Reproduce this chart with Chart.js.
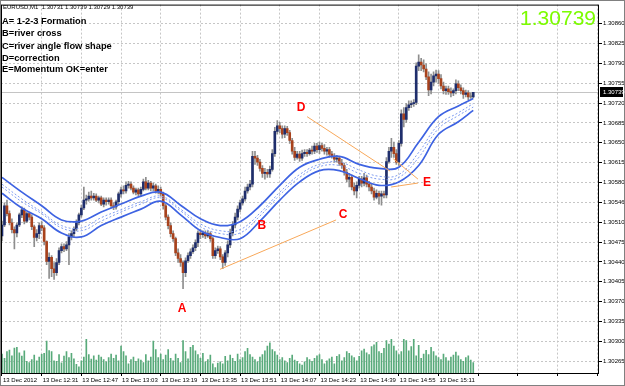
<!DOCTYPE html>
<html><head><meta charset="utf-8">
<script src="https://cdn.jsdelivr.net/npm/chart.js@4/dist/chart.umd.min.js"></script>
<style>html,body{margin:0;padding:0;background:#fff;overflow:hidden}canvas{display:block}</style>
</head><body>
<canvas id="c" width="625" height="386"></canvas>
<script>
const symbolTitle = 'EURUSD,M1  1.30731 1.30739 1.30729 1.30739';
const notes = ['A= 1-2-3 Formation','B=river cross','C=river angle flow shape','D=correction','E=Momentum OK=enter'];
const xTickBars = [0,16,32,48,64,80,96,112,128,144,160,176,192,208,224,240];
const xTickLabels = ['13 Dec 2012','13 Dec 12:31','13 Dec 12:47','13 Dec 13:03','13 Dec 13:19','13 Dec 13:35','13 Dec 13:51','13 Dec 14:07','13 Dec 14:23','13 Dec 14:39','13 Dec 14:55','13 Dec 15:11'];
const yTicks = [1.30265,1.30300,1.30335,1.30370,1.30405,1.30440,1.30475,1.30510,1.30545,1.30580,1.30615,1.30650,1.30685,1.30720,1.30755,1.30790,1.30825,1.30860];
const yTickLabels = ['1.30265','1.30300','1.30335','1.30370','1.30405','1.30440','1.30475','1.30510','1.30546','1.30580','1.30615','1.30650','1.30685','1.30720','1.30755','1.30790','1.30825','1.30860'];

const open = [1.30486,1.30505,1.30539,1.30525,1.30509,1.30497,1.30491,1.30505,1.30523,1.30532,
1.30512,1.30525,1.30519,1.30502,1.30483,1.30490,1.30504,1.30500,1.30476,1.30441,
1.30448,1.30428,1.30421,1.30439,1.30460,1.30467,1.30463,1.30470,1.30484,1.30490,
1.30498,1.30509,1.30523,1.30535,1.30549,1.30551,1.30556,1.30553,1.30556,1.30549,
1.30553,1.30542,1.30549,1.30546,1.30549,1.30539,1.30537,1.30546,1.30560,1.30567,
1.30565,1.30575,1.30577,1.30570,1.30563,1.30567,1.30560,1.30568,1.30581,1.30570,
1.30579,1.30570,1.30574,1.30565,1.30568,1.30560,1.30539,1.30519,1.30504,1.30490,
1.30481,1.30456,1.30446,1.30439,1.30421,1.30442,1.30451,1.30458,1.30465,1.30474,
1.30491,1.30488,1.30491,1.30486,1.30490,1.30481,1.30451,1.30460,1.30463,1.30449,
1.30439,1.30456,1.30470,1.30491,1.30505,1.30519,1.30533,1.30544,1.30551,1.30565,
1.30572,1.30577,1.30626,1.30623,1.30616,1.30605,1.30596,1.30598,1.30595,1.30603,
1.30631,1.30670,1.30680,1.30675,1.30665,1.30675,1.30668,1.30654,1.30635,1.30624,
1.30630,1.30623,1.30631,1.30633,1.30631,1.30637,1.30635,1.30644,1.30638,1.30645,
1.30640,1.30635,1.30638,1.30630,1.30626,1.30621,1.30623,1.30614,1.30610,1.30598,
1.30586,1.30589,1.30572,1.30565,1.30575,1.30586,1.30579,1.30588,1.30577,1.30572,
1.30565,1.30554,1.30561,1.30556,1.30560,1.30558,1.30617,1.30635,1.30642,1.30631,
1.30616,1.30649,1.30701,1.30691,1.30712,1.30717,1.30719,1.30721,1.30785,1.30792,
1.30787,1.30780,1.30766,1.30743,1.30757,1.30768,1.30771,1.30763,1.30750,1.30742,
1.30745,1.30740,1.30738,1.30742,1.30754,1.30747,1.30742,1.30735,1.30738,1.30731,
1.30731];
const high = [1.30512,1.30544,1.30549,1.30530,1.30516,1.30502,1.30509,1.30526,1.30537,1.30535,
1.30528,1.30528,1.30523,1.30505,1.30497,1.30509,1.30511,1.30504,1.30477,1.30456,
1.30451,1.30439,1.30446,1.30465,1.30472,1.30472,1.30476,1.30490,1.30495,1.30502,
1.30514,1.30526,1.30540,1.30572,1.30558,1.30563,1.30565,1.30561,1.30560,1.30556,
1.30556,1.30553,1.30553,1.30553,1.30553,1.30544,1.30549,1.30563,1.30572,1.30574,
1.30581,1.30582,1.30581,1.30574,1.30570,1.30570,1.30572,1.30586,1.30589,1.30584,
1.30582,1.30579,1.30577,1.30574,1.30572,1.30563,1.30542,1.30523,1.30509,1.30495,
1.30484,1.30463,1.30453,1.30442,1.30447,1.30456,1.30463,1.30470,1.30479,1.30495,
1.30497,1.30495,1.30495,1.30495,1.30493,1.30484,1.30465,1.30468,1.30467,1.30453,
1.30460,1.30477,1.30498,1.30511,1.30526,1.30539,1.30549,1.30556,1.30572,1.30577,
1.30584,1.30635,1.30635,1.30628,1.30621,1.30610,1.30605,1.30603,1.30609,1.30638,
1.30677,1.30689,1.30686,1.30680,1.30680,1.30679,1.30672,1.30658,1.30642,1.30635,
1.30635,1.30637,1.30638,1.30638,1.30640,1.30644,1.30649,1.30649,1.30651,1.30649,
1.30647,1.30642,1.30642,1.30635,1.30631,1.30628,1.30626,1.30621,1.30614,1.30603,
1.30596,1.30593,1.30579,1.30581,1.30591,1.30591,1.30596,1.30593,1.30582,1.30577,
1.30570,1.30567,1.30565,1.30565,1.30565,1.30624,1.30642,1.30658,1.30651,1.30638,
1.30654,1.30708,1.30712,1.30719,1.30724,1.30724,1.30726,1.30791,1.30805,1.30799,
1.30796,1.30789,1.30775,1.30771,1.30775,1.30778,1.30777,1.30770,1.30757,1.30750,
1.30750,1.30747,1.30745,1.30761,1.30759,1.30752,1.30747,1.30743,1.30742,1.30738,
1.30739];
const low = [1.30477,1.30502,1.30521,1.30505,1.30491,1.30463,1.30484,1.30502,1.30518,1.30507,
1.30509,1.30514,1.30497,1.30467,1.30477,1.30481,1.30495,1.30470,1.30435,1.30411,
1.30414,1.30409,1.30416,1.30435,1.30456,1.30458,1.30460,1.30435,1.30479,1.30484,
1.30495,1.30505,1.30519,1.30532,1.30542,1.30547,1.30549,1.30549,1.30546,1.30544,
1.30539,1.30537,1.30540,1.30542,1.30535,1.30532,1.30533,1.30542,1.30554,1.30560,
1.30561,1.30570,1.30567,1.30560,1.30558,1.30556,1.30556,1.30565,1.30567,1.30567,
1.30565,1.30565,1.30561,1.30560,1.30556,1.30533,1.30514,1.30498,1.30484,1.30476,
1.30451,1.30439,1.30432,1.30393,1.30414,1.30439,1.30446,1.30455,1.30460,1.30467,
1.30481,1.30483,1.30481,1.30483,1.30476,1.30446,1.30446,1.30455,1.30444,1.30428,
1.30434,1.30449,1.30465,1.30486,1.30500,1.30514,1.30528,1.30540,1.30547,1.30561,
1.30567,1.30572,1.30612,1.30610,1.30600,1.30589,1.30586,1.30589,1.30589,1.30600,
1.30626,1.30665,1.30668,1.30658,1.30659,1.30663,1.30649,1.30630,1.30619,1.30621,
1.30617,1.30619,1.30626,1.30626,1.30628,1.30630,1.30631,1.30633,1.30631,1.30635,
1.30630,1.30628,1.30624,1.30623,1.30616,1.30616,1.30610,1.30605,1.30593,1.30581,
1.30572,1.30567,1.30558,1.30553,1.30570,1.30572,1.30574,1.30572,1.30565,1.30560,
1.30549,1.30551,1.30542,1.30540,1.30553,1.30553,1.30614,1.30624,1.30624,1.30612,
1.30610,1.30644,1.30678,1.30686,1.30707,1.30712,1.30714,1.30717,1.30777,1.30777,
1.30775,1.30761,1.30733,1.30736,1.30750,1.30757,1.30754,1.30745,1.30736,1.30735,
1.30735,1.30731,1.30733,1.30736,1.30742,1.30736,1.30728,1.30731,1.30726,1.30728,
1.30729];
const close = [1.30505,1.30539,1.30525,1.30509,1.30497,1.30491,1.30505,1.30523,1.30532,1.30512,
1.30525,1.30519,1.30502,1.30483,1.30490,1.30504,1.30500,1.30476,1.30441,1.30448,
1.30428,1.30421,1.30439,1.30460,1.30467,1.30463,1.30470,1.30484,1.30490,1.30498,
1.30509,1.30523,1.30535,1.30549,1.30551,1.30556,1.30553,1.30556,1.30549,1.30553,
1.30542,1.30549,1.30546,1.30549,1.30539,1.30537,1.30546,1.30560,1.30567,1.30565,
1.30575,1.30577,1.30570,1.30563,1.30567,1.30560,1.30568,1.30581,1.30570,1.30579,
1.30570,1.30574,1.30565,1.30568,1.30560,1.30539,1.30519,1.30504,1.30490,1.30481,
1.30456,1.30446,1.30439,1.30421,1.30442,1.30451,1.30458,1.30465,1.30474,1.30491,
1.30488,1.30491,1.30486,1.30490,1.30481,1.30451,1.30460,1.30463,1.30449,1.30439,
1.30456,1.30470,1.30491,1.30505,1.30519,1.30533,1.30544,1.30551,1.30565,1.30572,
1.30577,1.30626,1.30623,1.30616,1.30605,1.30596,1.30598,1.30595,1.30603,1.30631,
1.30670,1.30680,1.30675,1.30665,1.30675,1.30668,1.30654,1.30635,1.30624,1.30630,
1.30623,1.30631,1.30633,1.30631,1.30637,1.30635,1.30644,1.30638,1.30645,1.30640,
1.30635,1.30638,1.30630,1.30626,1.30621,1.30623,1.30614,1.30610,1.30598,1.30586,
1.30589,1.30572,1.30565,1.30575,1.30586,1.30579,1.30588,1.30577,1.30572,1.30565,
1.30554,1.30561,1.30556,1.30560,1.30558,1.30617,1.30635,1.30642,1.30631,1.30616,
1.30649,1.30701,1.30691,1.30712,1.30717,1.30719,1.30721,1.30785,1.30792,1.30787,
1.30780,1.30766,1.30743,1.30757,1.30768,1.30771,1.30763,1.30750,1.30742,1.30745,
1.30740,1.30738,1.30742,1.30754,1.30747,1.30742,1.30735,1.30738,1.30731,1.30731,
1.30739];
const volume = [62,48,70,75,56,81,84,66,55,72,
38,34,44,58,40,52,61,64,104,73,
70,40,38,60,33,55,70,50,64,46,
28,20,40,52,110,60,45,56,42,58,
52,44,36,50,62,48,58,40,88,70,
56,30,44,52,38,46,42,34,60,40,
52,104,76,50,62,44,58,76,48,40,
62,48,34,106,70,46,84,90,72,60,
48,64,36,44,58,30,18,32,36,30,
54,40,58,48,38,62,44,50,70,80,
60,52,44,36,52,60,72,88,98,76,
70,58,44,50,40,34,48,58,42,38,
30,26,36,50,44,38,48,56,60,44,
30,40,46,52,30,54,60,40,50,70,
64,56,50,40,54,72,78,66,60,86,
92,100,70,64,80,106,94,110,88,72,
60,70,110,106,72,86,110,56,90,48,
62,74,60,84,70,56,50,44,62,50,
40,52,58,68,56,44,38,50,56,42,
34];

const riverBars  = [0,8,16,24,32,40,48,56,64,72,80,88,96,104,112,120,128,136,144,152,160,168,176,184,190];
const riverUpper = [1.30589,1.30563,1.30539,1.30514,1.30512,1.30528,1.30542,1.30556,1.30563,1.30540,1.30516,1.30504,1.30511,1.30539,1.30575,1.30607,1.30621,1.30626,1.30612,1.30605,1.30607,1.30651,1.30696,1.30715,1.30728];
const riverMidA  = [1.30577,1.30551,1.30528,1.30504,1.30500,1.30518,1.30532,1.30546,1.30556,1.30533,1.30507,1.30495,1.30497,1.30526,1.30563,1.30594,1.30612,1.30616,1.30602,1.30591,1.30594,1.30633,1.30682,1.30703,1.30719];
const riverMidB  = [1.30572,1.30546,1.30525,1.30500,1.30495,1.30512,1.30528,1.30542,1.30553,1.30530,1.30502,1.30490,1.30491,1.30521,1.30558,1.30589,1.30608,1.30610,1.30596,1.30586,1.30589,1.30624,1.30675,1.30698,1.30713];
const riverLower = [1.30561,1.30535,1.30516,1.30491,1.30484,1.30504,1.30519,1.30533,1.30547,1.30523,1.30495,1.30483,1.30481,1.30512,1.30549,1.30581,1.30601,1.30601,1.30587,1.30575,1.30581,1.30610,1.30665,1.30687,1.30707];

const trendLineBars   = [[87.9,134.7],[123,156.5],[157.7,167.7],[156.9,167.7]];
const trendLinePrices = [[1.30427,1.30514],[1.30696,1.30600],[1.30622,1.30586],[1.30572,1.30579]];
const markLetters = ['A','B','C','D','E'];
const markBars    = [72.6,104.8,137.5,120.6,171.4];
const markPrices  = [1.30358,1.30503,1.30523,1.30712,1.30579];

const FONT = '"Liberation Sans", Arial, sans-serif';
const UP = '#1f2e6c', DOWN = '#a8421c', DOJI = '#7a7a7a';
const RIVER = '#3e63e2', RIVER_DASH = '#7f9cf0', ORANGE = '#f8a85a';

const datasets = [];
trendLineBars.forEach((bs, k) => {
  datasets.push({type:'line', data: bs.map((b,j)=>({x:b, y:trendLinePrices[k][j]})), borderColor: ORANGE, borderWidth:1, pointRadius:0, tension:0, order:1});
});
[[riverUpper,false],[riverMidA,true],[riverMidB,true],[riverLower,false]].forEach(([arr,dash]) => {
  datasets.push({type:'line', data: riverBars.map((b,i)=>({x:b, y:arr[i]})), borderColor: dash?RIVER_DASH:RIVER, borderWidth: dash?1:1.7, borderDash: dash?[2,2]:[], pointRadius:0, tension:0.4, order:2});
});
datasets.push({type:'bar', data: close.map((c,i)=>({x:i, y:[open[i], c]})), backgroundColor: close.map((c,i)=> c>open[i]?UP:(c<open[i]?DOWN:DOJI)), barThickness:2, minBarLength:1, grouped:false, order:3});
datasets.push({type:'bar', data: high.map((h,i)=>({x:i, y:[low[i], h]})), backgroundColor:'#8e8e8e', barThickness:1, grouped:false, order:4});
datasets.push({type:'bar', data: volume.map((v,i)=>({x:i, y:v})), backgroundColor:'#58aa7a', barThickness:1, grouped:false, yAxisID:'yVol', order:5});

const overlay = {
  id:'overlay',
  beforeDatasetsDraw(chart){
    const {ctx, chartArea:a, scales:{y}} = chart;
    const py = Math.round(y.getPixelForValue(close[close.length-1])) + 0.5;
    ctx.save(); ctx.strokeStyle='#c4c4c4'; ctx.lineWidth=1;
    ctx.beginPath(); ctx.moveTo(a.left, py); ctx.lineTo(a.right, py); ctx.stroke(); ctx.restore();
  },
  afterDraw(chart){
    const {ctx, chartArea:a, scales:{x,y}} = chart;
    ctx.save();
    ctx.strokeStyle='#000'; ctx.lineWidth=1;
    ctx.strokeRect(a.left+0.5, a.top+0.5, a.right-a.left-1, a.bottom-a.top);
    ctx.strokeStyle='#808080';
    ctx.strokeRect(0.5, 0.5, chart.width-1, chart.height-1);
    ctx.fillStyle='#000'; ctx.textAlign='left'; ctx.textBaseline='middle';
    ctx.font = '6px ' + FONT;
    ctx.fillText(symbolTitle, 3, 7);
    ctx.font = 'bold 9.3px ' + FONT;
    const noteY = [21.5, 33.5, 46.5, 58, 69.5];
    notes.forEach((t,i)=> ctx.fillText(t, 2, noteY[i]));
    ctx.fillStyle='#ff0000'; ctx.font='bold 12px ' + FONT; ctx.textAlign='center';
    markLetters.forEach((m,i)=> ctx.fillText(m, x.getPixelForValue(markBars[i]), y.getPixelForValue(markPrices[i])));
    const last = close[close.length-1];
    ctx.fillStyle='#7cfc00'; ctx.font='21px ' + FONT; ctx.textAlign='right'; ctx.textBaseline='alphabetic';
    ctx.fillText(last.toFixed(5), 596, 25);
    const py = Math.round(y.getPixelForValue(last));
    ctx.fillStyle='#000'; ctx.fillRect(a.right+1, py-5, chart.width-a.right-3, 10);
    ctx.fillStyle='#fff'; ctx.font='6px ' + FONT; ctx.textAlign='left'; ctx.textBaseline='middle';
    ctx.fillText(last.toFixed(5), a.right+4, py);
    ctx.restore();
  }
};

new Chart(document.getElementById('c'), {
  type:'bar',
  data:{datasets},
  options:{
    responsive:false, animation:false, devicePixelRatio:1,
    layout:{padding:{left:1, top:2, right:0, bottom:0}},
    plugins:{legend:{display:false}, tooltip:{enabled:false}},
    scales:{
      x:{type:'linear', min:-0.4, max:240.7, offset:false,
         afterBuildTicks: s => { s.ticks = xTickBars.map(v=>({value:v})); },
         afterFit: s => { s.height = 13; },
         ticks:{autoSkip:false, maxRotation:0, minRotation:0, align:'start', labelOffset:1, padding:1, color:'#000', font:{family:FONT, size:6}, callback:(v,i)=> xTickLabels[i] || ''},
         grid:{offset:false, color:'#c6c6c6', lineWidth:1, tickLength:3, tickColor:'#000', tickBorderDash:[]},
         border:{display:false, dash:[2,2]}},
      y:{type:'linear', position:'right', min:1.3024425, max:1.308935,
         afterBuildTicks: s => { s.ticks = yTicks.map(v=>({value:v})); },
         afterFit: s => { s.width = 26; },
         ticks:{autoSkip:false, padding:1, color:'#000', font:{family:FONT, size:6}, callback:(v,i)=> yTickLabels[i]},
         grid:{color:'#c6c6c6', lineWidth:1, tickLength:3, tickColor:'#000', tickBorderDash:[]},
         border:{display:false, dash:[2,2]}},
      yVol:{display:false, min:0, max:1200}
    }
  },
  plugins:[overlay]
});
</script>
</body></html>
